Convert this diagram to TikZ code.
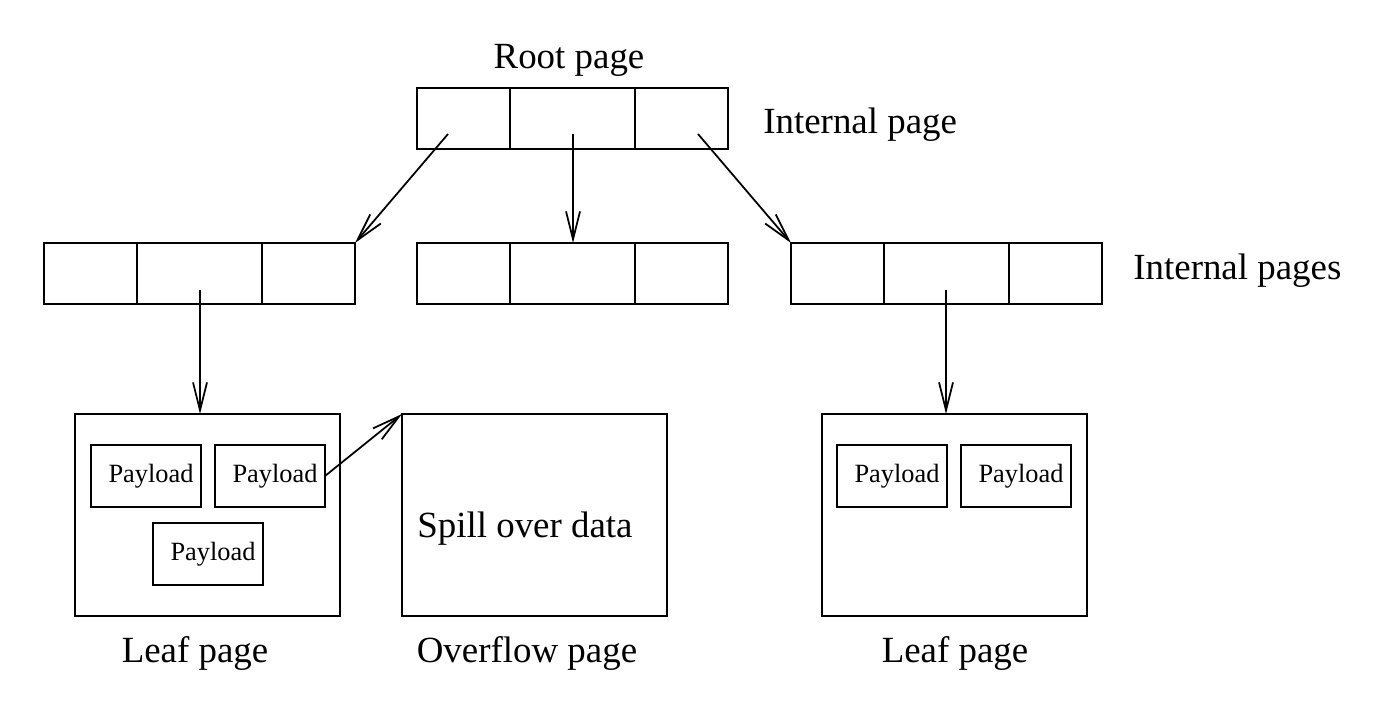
\documentclass[tikz,border=0pt]{standalone}
\usepackage{fontspec}
\setmainfont{Liberation Serif}
\usepackage{tikz}
\usetikzlibrary{arrows.meta, positioning, calc}

\begin{document}
\begin{tikzpicture}[
    x=0.2mm, y=-0.2mm,
    cell/.style={draw, rectangle, line width=1.1pt, inner sep=0pt, outer sep=0pt, minimum width=18.6mm, minimum height=12.2mm},
    widecell/.style={cell, minimum width=25mm},
    page/.style={draw, rectangle, line width=1.1pt, inner sep=0pt, outer sep=0pt, minimum width=53mm, minimum height=40.4mm},
    payload/.style={draw, rectangle, line width=1.1pt, inner sep=0pt, outer sep=0pt, minimum width=22mm, minimum height=12.4mm, font=\fontsize{15}{18}\selectfont},
    lbl/.style={inner sep=0pt, font=\fontsize{21}{25}\selectfont},
    ptr/.style={-{Straight Barb[length=5.6mm, width=2.8mm, line width=1pt]}, line width=1pt}
]
    \useasboundingbox (0,0) rectangle (1389,712);

    % Root page
    \node[cell] (r1) at (463.5,118.5) {};
    \node[widecell, right=0pt of r1] (r2) {};
    \node[cell, right=0pt of r2] (r3) {};
    \node[lbl, anchor=base] (rootlbl) at (569,68) {Root page};
    \node[lbl, anchor=base west] (intlbl) at (763,133) {Internal page};

    % Internal pages
    \node[cell] (a1) at (90.5,273.5) {};
    \node[widecell, right=0pt of a1] (a2) {};
    \node[cell, right=0pt of a2] (a3) {};
    \node[cell] (b1) at (463.5,273.5) {};
    \node[widecell, right=0pt of b1] (b2) {};
    \node[cell, right=0pt of b2] (b3) {};
    \node[cell] (c1) at (837.5,273.5) {};
    \node[widecell, right=0pt of c1] (c2) {};
    \node[cell, right=0pt of c2] (c3) {};
    \node[lbl, anchor=base west] (intslbl) at (1133,279) {Internal pages};

    % Leaf and overflow pages
    \node[page] (leafa) at (207.5,515) {};
    \node[page] (ovf) at (534.5,515) {};
    \node[page] (leafc) at (954.5,515) {};
    \node[lbl, anchor=base] (leafalbl) at (195,662) {Leaf page};
    \node[lbl, anchor=base] (ovflbl) at (527,662) {Overflow page};
    \node[lbl, anchor=base] (leafclbl) at (955,662) {Leaf page};
    \node[lbl, anchor=base west] (spill) at (417,537) {Spill over data};

    % Payloads
    \node[payload] (pa1) at (146,476) {\hspace{2mm}Payload};
    \node[payload] (pa2) at (270,476) {\hspace{2mm}Payload};
    \node[payload] (pa3) at (208,554) {\hspace{2mm}Payload};
    \node[payload] (pc1) at (892,476) {\hspace{2mm}Payload};
    \node[payload] (pc2) at (1016,476) {\hspace{2mm}Payload};

    % Pointers
    \coordinate (t1) at (448,134);
    \coordinate (t2) at (573,134);
    \coordinate (t3) at (698,134);
    \coordinate (t4) at (200,290);
    \coordinate (t5) at (946,290);
    \draw[ptr] (t1) -- (a3.north east);
    \draw[ptr] (t2) -- (t2 |- b2.north);
    \draw[ptr] (t3) -- (c1.north west);
    \draw[ptr] (t4) -- (t4 |- leafa.north);
    \draw[ptr] (t5) -- (t5 |- leafc.north);
    \draw[ptr] (pa2.east) -- (ovf.north west);

\end{tikzpicture}
\end{document}
